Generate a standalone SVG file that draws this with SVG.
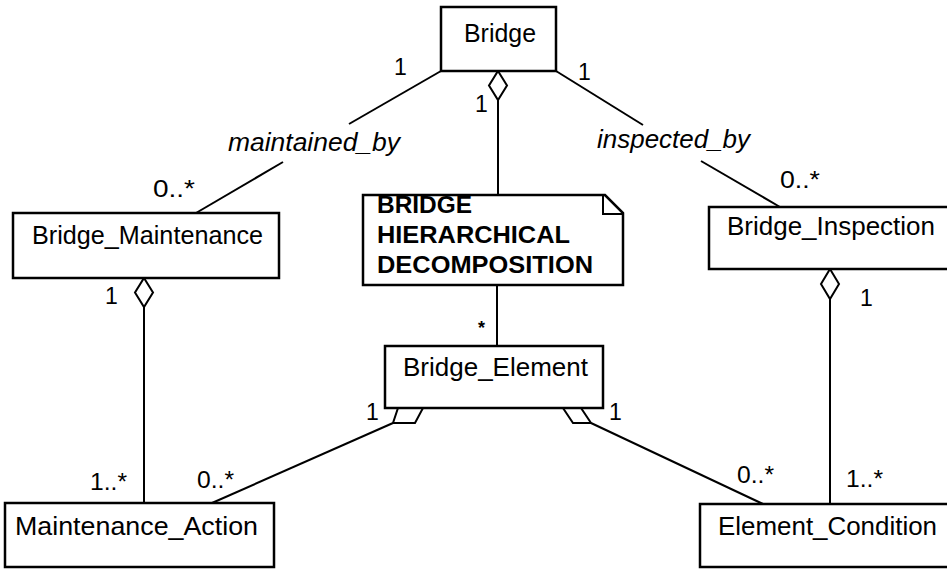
<svg xmlns="http://www.w3.org/2000/svg" width="947" height="569" viewBox="0 0 947 569">
  <style>
    .box { fill: #ffffff; stroke: #000000; stroke-width: 2.5; }
    .ln { fill: none; stroke: #000000; stroke-width: 2; }
    .agg { fill: #ffffff; stroke: #000000; stroke-width: 2; stroke-linejoin: miter; }
    text { font-family: "Liberation Sans", Arial, sans-serif; fill: #000000; }
    .name { font-size: 25px; }
    .role { font-size: 25px; font-style: italic; }
    .mult { font-size: 23px; }
    .note { font-size: 24px; font-weight: bold; }
  </style>

  <rect width="947" height="569" fill="#ffffff"/>

  <!-- associations and aggregations -->
  <g id="connectors">
    <!-- Bridge - Bridge_Maintenance (maintained_by) -->
    <line class="ln" x1="441" y1="71" x2="349" y2="124"/>
    <line class="ln" x1="283" y1="162" x2="196" y2="213"/>
    <!-- Bridge - Bridge_Inspection (inspected_by) -->
    <line class="ln" x1="556" y1="71" x2="643" y2="125"/>
    <line class="ln" x1="701" y1="161" x2="780" y2="207"/>
    <!-- Bridge aggregates the decomposition note / Bridge_Element -->
    <line class="ln" x1="498" y1="100" x2="498" y2="195"/>
    <line class="ln" x1="497" y1="285" x2="497" y2="346"/>
    <polygon class="agg" points="498,71 507,85.5 498,100 489,85.5"/>
    <!-- Bridge_Maintenance - Maintenance_Action -->
    <line class="ln" x1="144" y1="307" x2="144" y2="503"/>
    <polygon class="agg" points="144,278 153,292.5 144,307 135,292.5"/>
    <!-- Bridge_Inspection - Element_Condition -->
    <line class="ln" x1="830" y1="299" x2="830" y2="504"/>
    <polygon class="agg" points="830,269 839,284 830,299 821,284"/>
    <!-- Bridge_Element - Maintenance_Action -->
    <line class="ln" x1="393" y1="423" x2="212" y2="503"/>
    <polygon class="agg" points="398,408 423,408 415,423 393,423"/>
    <!-- Bridge_Element - Element_Condition -->
    <line class="ln" x1="591" y1="423" x2="763" y2="504"/>
    <polygon class="agg" points="563,408 581,408 591,423 573,423"/>
  </g>

  <!-- role names -->
  <g id="roles">
    <text class="role" x="228" y="151" textLength="172" lengthAdjust="spacingAndGlyphs">maintained_by</text>
    <text class="role" x="597" y="148" textLength="153" lengthAdjust="spacingAndGlyphs">inspected_by</text>
  </g>

  <!-- multiplicities -->
  <g id="multiplicities">
    <text class="mult" x="394" y="75">1</text>
    <text class="mult" x="578" y="80">1</text>
    <text class="mult" x="475" y="112">1</text>
    <text class="mult" x="153" y="197" textLength="42" lengthAdjust="spacingAndGlyphs">0..*</text>
    <text class="mult" x="780" y="188" textLength="40" lengthAdjust="spacingAndGlyphs">0..*</text>
    <text class="mult" x="105" y="304">1</text>
    <text class="mult" x="860" y="306">1</text>
    <text class="mult" x="478" y="334" style="font-size:18px;font-weight:bold">*</text>
    <text class="mult" x="366" y="420">1</text>
    <text class="mult" x="609" y="420">1</text>
    <text class="mult" x="90" y="490" textLength="37" lengthAdjust="spacingAndGlyphs">1..*</text>
    <text class="mult" x="197" y="488" textLength="37" lengthAdjust="spacingAndGlyphs">0..*</text>
    <text class="mult" x="737" y="483" textLength="37" lengthAdjust="spacingAndGlyphs">0..*</text>
    <text class="mult" x="846" y="487" textLength="37" lengthAdjust="spacingAndGlyphs">1..*</text>
  </g>

  <g id="bridge">
    <rect class="box" x="441" y="7" width="115" height="64"/>
    <text class="name" x="464" y="42" textLength="72" lengthAdjust="spacingAndGlyphs">Bridge</text>
  </g>

  <g id="bridge-maintenance">
    <rect class="box" x="13" y="213" width="266" height="65"/>
    <text class="name" x="32" y="244" textLength="231" lengthAdjust="spacingAndGlyphs">Bridge_Maintenance</text>
  </g>

  <g id="bridge-inspection">
    <rect class="box" x="709" y="207" width="245" height="62"/>
    <text class="name" x="727" y="235" textLength="208" lengthAdjust="spacingAndGlyphs">Bridge_Inspection</text>
  </g>

  <g id="decomposition-note">
    <path class="box" d="M363,195 H605 L623,213 V285 H363 Z"/>
    <path class="ln" d="M603,196 V214 H622"/>
    <text class="note" x="377" y="213" textLength="95" lengthAdjust="spacingAndGlyphs">BRIDGE</text>
    <text class="note" x="377" y="243" textLength="193" lengthAdjust="spacingAndGlyphs">HIERARCHICAL</text>
    <text class="note" x="377" y="273" textLength="216" lengthAdjust="spacingAndGlyphs">DECOMPOSITION</text>
  </g>

  <g id="bridge-element">
    <rect class="box" x="385" y="346" width="218" height="62"/>
    <text class="name" x="403" y="376" textLength="185" lengthAdjust="spacingAndGlyphs">Bridge_Element</text>
  </g>

  <g id="maintenance-action">
    <rect class="box" x="5" y="503" width="269" height="64"/>
    <text class="name" x="15" y="535" textLength="243" lengthAdjust="spacingAndGlyphs">Maintenance_Action</text>
  </g>

  <g id="element-condition">
    <rect class="box" x="700" y="504" width="254" height="63"/>
    <text class="name" x="718" y="535" textLength="219" lengthAdjust="spacingAndGlyphs">Element_Condition</text>
  </g>
</svg>
